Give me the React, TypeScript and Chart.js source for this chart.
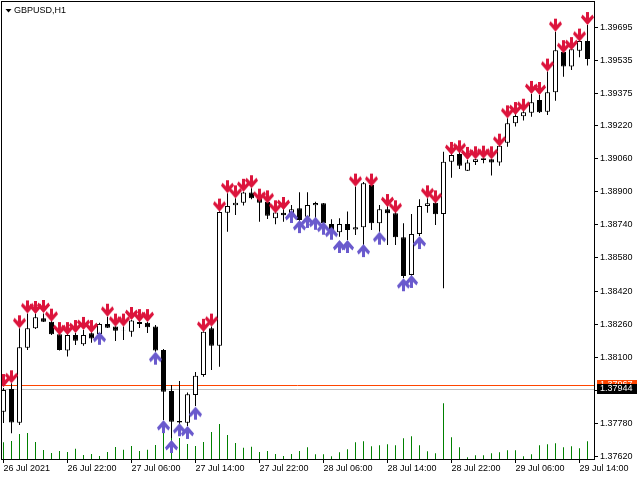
import React, { useEffect, useRef } from "react";
import { Chart, registerables } from "chart.js";

Chart.register(...registerables);

const symbolTitle = "GBPUSD,H1";

// x axis: every 8th H1 bar gets a label
const xTickBars = [0, 8, 16, 24, 32, 40, 48, 56, 64, 72];
const xTickLabels = [
  "26 Jul 2021",
  "26 Jul 22:00",
  "27 Jul 06:00",
  "27 Jul 14:00",
  "27 Jul 22:00",
  "28 Jul 06:00",
  "28 Jul 14:00",
  "28 Jul 22:00",
  "29 Jul 06:00",
  "29 Jul 14:00",
];
const yTicks = [
  1.3762, 1.3778, 1.3794, 1.381, 1.3826, 1.3842, 1.3858, 1.3874, 1.389, 1.3906,
  1.3922, 1.39375, 1.39535, 1.39695,
];

const bidPrice = 1.37944;
const askPrice = 1.37967;

const opens = [
  1.37837, 1.37946, 1.37783, 1.38146, 1.3824, 1.38288, 1.38272, 1.38211, 1.38132, 1.38207,
  1.38163, 1.38216, 1.38212, 1.38261, 1.38248, 1.38232, 1.38223, 1.3827, 1.38267, 1.38248,
  1.38135, 1.37937, 1.37792, 1.37783, 1.37917, 1.38014, 1.3824, 1.38156, 1.38799, 1.38835,
  1.38847, 1.38896, 1.38868, 1.38852, 1.38772, 1.38799, 1.38796, 1.3882, 1.38779, 1.38835,
  1.38844, 1.38744, 1.38704, 1.38744, 1.38717, 1.38728, 1.38933, 1.38748, 1.38815, 1.38796,
  1.3868, 1.38498, 1.38696, 1.38831, 1.38847, 1.38793, 1.39045, 1.39083, 1.39002, 1.39044,
  1.39054, 1.39057, 1.39041, 1.39137, 1.39231, 1.39265, 1.39282, 1.39344, 1.39287, 1.39381,
  1.39577, 1.39505, 1.39582, 1.39629,
];
const highs = [
  1.37951, 1.37974, 1.3824, 1.38312, 1.38312, 1.38312, 1.3828, 1.38217, 1.38217, 1.38217,
  1.38232, 1.38222, 1.38267, 1.38296, 1.3825, 1.38248, 1.3828, 1.38275, 1.3827, 1.38256,
  1.3814, 1.37966, 1.37985, 1.3793, 1.38029, 1.38226, 1.38248, 1.38806, 1.38893, 1.38868,
  1.389, 1.38917, 1.38875, 1.38855, 1.38801, 1.38828, 1.38836, 1.38897, 1.38897, 1.38852,
  1.38846, 1.38767, 1.38772, 1.38804, 1.38925, 1.38947, 1.38957, 1.38836, 1.38836, 1.38812,
  1.38748, 1.38793, 1.38864, 1.38868, 1.38851, 1.39094, 1.39102, 1.39094, 1.39054, 1.39058,
  1.39063, 1.39058, 1.39134, 1.39255, 1.39279, 1.39295, 1.39373, 1.39368, 1.39481, 1.39674,
  1.39597, 1.39601, 1.39642, 1.39706,
];
const lows = [
  1.37782, 1.37732, 1.37772, 1.38135, 1.38236, 1.3827, 1.38207, 1.38132, 1.38103, 1.38159,
  1.38156, 1.3817, 1.38203, 1.38241, 1.38178, 1.38183, 1.38199, 1.38241, 1.38217, 1.38127,
  1.37796, 1.37709, 1.37777, 1.37768, 1.37864, 1.38006, 1.38038, 1.38054, 1.38707, 1.38788,
  1.38833, 1.38864, 1.38755, 1.38768, 1.38743, 1.38755, 1.38788, 1.38759, 1.38772, 1.38772,
  1.38745, 1.3871, 1.38683, 1.38667, 1.38691, 1.38643, 1.38715, 1.38707, 1.38643, 1.38643,
  1.38483, 1.3849, 1.38686, 1.38799, 1.38739, 1.38433, 1.38968, 1.3901, 1.39, 1.39029,
  1.39038, 1.38978, 1.39026, 1.39118, 1.39215, 1.39244, 1.39263, 1.39281, 1.39271, 1.3934,
  1.39456, 1.39489, 1.3955, 1.3951,
];
const closes = [
  1.37942, 1.37785, 1.38148, 1.3824, 1.38293, 1.38272, 1.38211, 1.38135, 1.38207, 1.3818,
  1.38207, 1.3819, 1.38261, 1.38243, 1.38228, 1.3823, 1.38277, 1.38261, 1.38245, 1.38132,
  1.37933, 1.37788, 1.37785, 1.37921, 1.38011, 1.38223, 1.38156, 1.38802, 1.38831, 1.38847,
  1.38896, 1.38868, 1.38847, 1.38784, 1.388, 1.38786, 1.38815, 1.38763, 1.38836, 1.38846,
  1.38748, 1.38715, 1.38744, 1.38715, 1.38728, 1.38941, 1.38748, 1.38815, 1.38796, 1.3868,
  1.38493, 1.38696, 1.38831, 1.38844, 1.38791, 1.39045, 1.39078, 1.39026, 1.39042, 1.39057,
  1.39062, 1.39041, 1.39123, 1.39231, 1.39266, 1.39284, 1.39333, 1.39284, 1.39381, 1.39584,
  1.39505, 1.39589, 1.39629, 1.39542,
];
const volumes = [
  2000, 2160, 3000, 3120, 2040, 1080, 720, 960, 840, 1240,
  480, 600, 360, 840, 1440, 1120, 1560, 960, 1120, 1680,
  3120, 2880, 2520, 1800, 1560, 2040, 3240, 4200, 2880, 1920,
  1360, 1480, 840, 960, 600, 360, 600, 960, 1400, 560,
  560, 320, 800, 1160, 2000, 2120, 1520, 1640, 1760, 1640,
  2480, 2720, 1640, 920, 680, 6680, 2600, 1400, 200, 440,
  440, 680, 800, 1040, 1040, 320, 560, 1640, 1760, 1880,
  1400, 1520, 1280, 2120,
];

// indicator signals: sell arrows sit above the bar, buy arrows below
const sellSignals = [
  1.37956, 1.37974, 1.3824, 1.38312, 1.38309, 1.38314, 1.38272, 1.38207, 1.38207, 1.38217,
  1.38232, 1.38217, null, 1.38296, 1.38248, 1.38248, 1.3828, 1.3827, 1.3827, null,
  null, null, null, null, null, 1.38223, 1.38248, 1.38804, 1.38893, 1.38868,
  1.389, 1.38917, 1.38852, 1.38844, 1.38796, 1.38812, null, null, null, null,
  null, null, null, null, 1.38925, null, 1.38925, null, 1.38826, 1.38796,
  null, null, null, 1.38868, 1.38844, null, 1.39078, 1.39086, 1.39054, 1.39057,
  1.3906, 1.39057, 1.39118, 1.39255, 1.39271, 1.39287, 1.39373, 1.39368, 1.39481, 1.39674,
  1.3957, 1.39585, 1.39626, 1.39706,
];
const buySignals = [
  null, null, null, null, null, null, null, null, null, null,
  null, null, 1.38223, null, null, null, null, null, null, 1.38127,
  1.37796, 1.377, 1.37781, 1.37768, 1.37861, null, null, null, null, null,
  null, null, null, null, null, null, 1.38812, 1.38763, 1.38788, 1.38779,
  1.38755, 1.38731, 1.38667, 1.38667, null, 1.38647, null, 1.38707, null, null,
  1.38482, 1.38498, 1.38686, null, null, null, null, null, null, null,
  null, null, null, null, null, null, null, null, null, null,
  null, null, null, null,
];

const FONT = { family: "'Liberation Sans', Arial, sans-serif", size: 9 };

function makeArrow(color: string, up: boolean) {
  const c = document.createElement("canvas");
  c.width = 13;
  c.height = 28;
  const g = c.getContext("2d")!;
  const pts = [
    [5, 1], [8, 1], [8, 7], [11.5, 3.5], [13, 6.5], [6.5, 14],
    [0, 6.5], [1.5, 3.5], [5, 7],
  ];
  g.fillStyle = color;
  g.beginPath();
  pts.forEach(([px, py], k) => {
    const yy = up ? 28 - py : py;
    if (k) g.lineTo(px, yy);
    else g.moveTo(px, yy);
  });
  g.closePath();
  g.fill();
  return c;
}

const terminalLook = {
  id: "terminalLook",
  beforeDatasetsDraw(chart: any) {
    const { ctx, chartArea: a, scales } = chart;
    ctx.save();
    ctx.lineWidth = 1;
    const lines: [number, string][] = [
      [askPrice, "#ff4500"],
      [bidPrice, "#c0c0c0"],
    ];
    lines.forEach(([p, c]) => {
      const py = Math.round(scales.y.getPixelForValue(p)) + 0.5;
      ctx.strokeStyle = c;
      ctx.beginPath();
      ctx.moveTo(a.left, py);
      ctx.lineTo(a.right, py);
      ctx.stroke();
    });
    ctx.restore();
  },
  afterDraw(chart: any) {
    const { ctx, chartArea: a, scales } = chart;
    ctx.save();
    ctx.strokeStyle = "#000";
    ctx.lineWidth = 1;
    ctx.strokeRect(a.left + 0.5, a.top + 0.5, a.right - a.left, a.bottom - a.top);

    // symbol caption
    ctx.fillStyle = "#000";
    ctx.beginPath();
    ctx.moveTo(5.5, 9);
    ctx.lineTo(11.5, 9);
    ctx.lineTo(8.5, 12.5);
    ctx.closePath();
    ctx.fill();
    ctx.font = `${FONT.size}px ${FONT.family}`;
    ctx.textBaseline = "middle";
    ctx.textAlign = "left";
    ctx.fillText(symbolTitle, 14, 11);

    // price tags on the right axis
    const tags: [number, string][] = [
      [askPrice, "#ff4500"],
      [bidPrice, "#000000"],
    ];
    tags.forEach(([p, c]) => {
      const py = Math.round(scales.y.getPixelForValue(p));
      ctx.fillStyle = c;
      ctx.fillRect(a.right + 3, py - 5, 40, 10);
      ctx.fillStyle = "#fff";
      ctx.fillText(p.toFixed(5), a.right + 6, py);
    });
    ctx.restore();
  },
};

function App() {
  const chartRef = useRef<HTMLCanvasElement>(null);

  useEffect(() => {
    if (!chartRef.current) throw new Error("missing canvas");
    const sellArrow = makeArrow("#dc143c", false);
    const buyArrow = makeArrow("#6a5acd", true);

    const chart = new Chart(chartRef.current, {
      type: "bar",
      data: {
        datasets: [
          {
            type: "scatter",
            data: sellSignals
              .map((v, i) => (v == null ? null : { x: i, y: v }))
              .filter((d) => d) as any,
            pointStyle: sellArrow,
            order: 1,
          },
          {
            type: "scatter",
            data: buySignals
              .map((v, i) => (v == null ? null : { x: i, y: v }))
              .filter((d) => d) as any,
            pointStyle: buyArrow,
            order: 1,
          },
          {
            data: opens.map((o, i) => ({ x: i, y: [o, closes[i]] })) as any,
            backgroundColor: opens.map((o, i) => (closes[i] >= o ? "#ffffff" : "#000000")),
            borderColor: "#000",
            borderWidth: 1,
            borderSkipped: false,
            maxBarThickness: 5,
            inflateAmount: 0,
            grouped: false,
            order: 2,
          },
          {
            data: highs.map((h, i) => ({ x: i, y: [lows[i], h] })) as any,
            backgroundColor: "#000",
            borderWidth: 0,
            maxBarThickness: 1,
            inflateAmount: 0,
            grouped: false,
            order: 3,
          },
          {
            data: volumes.map((v, i) => ({ x: i, y: v })) as any,
            yAxisID: "vol",
            backgroundColor: "#008000",
            borderWidth: 0,
            maxBarThickness: 1,
            inflateAmount: 0,
            grouped: false,
            order: 4,
          },
        ],
      },
      options: {
        animation: false,
        responsive: false,
        devicePixelRatio: 1,
        layout: { autoPadding: false, padding: { top: 1, left: 1, right: 0, bottom: 0 } },
        plugins: { legend: { display: false }, tooltip: { enabled: false } },
        scales: {
          x: {
            type: "linear",
            offset: false,
            min: -0.3125,
            max: 73.8125,
            afterBuildTicks: (s: any) => {
              s.ticks = xTickBars.map((v) => ({ value: v }));
            },
            afterFit: (s: any) => {
              s.height = 21;
              s.paddingLeft = 0;
              s.paddingRight = 0;
            },
            ticks: {
              autoSkip: false,
              maxRotation: 0,
              align: "start",
              padding: 0,
              color: "#000",
              font: FONT,
              callback: (_v: any, i: number) => xTickLabels[i],
            },
            grid: { drawOnChartArea: false, offset: false, tickLength: 4, color: "#000" },
            border: { color: "#000" },
          },
          y: {
            type: "linear",
            position: "right",
            min: 1.37608,
            max: 1.398222,
            afterBuildTicks: (s: any) => {
              s.ticks = yTicks.map((v) => ({ value: v }));
            },
            afterFit: (s: any) => {
              s.width = 46;
              s.paddingTop = 0;
              s.paddingBottom = 0;
            },
            ticks: {
              autoSkip: false,
              padding: 2,
              color: "#000",
              font: FONT,
              callback: (v: any) => Number(v).toFixed(5),
            },
            grid: { drawOnChartArea: false, tickLength: 4, color: "#000" },
            border: { color: "#000" },
          },
          vol: { type: "linear", display: false, min: 0, max: 54960 },
        },
      },
      plugins: [terminalLook],
    });

    return () => chart.destroy();
  }, []);

  return (
    <div style={{ position: "absolute", left: 0, top: 0, width: 640, height: 480, background: "#fff" }}>
      <canvas ref={chartRef} width={640} height={480}></canvas>
    </div>
  );
}

export default App;
